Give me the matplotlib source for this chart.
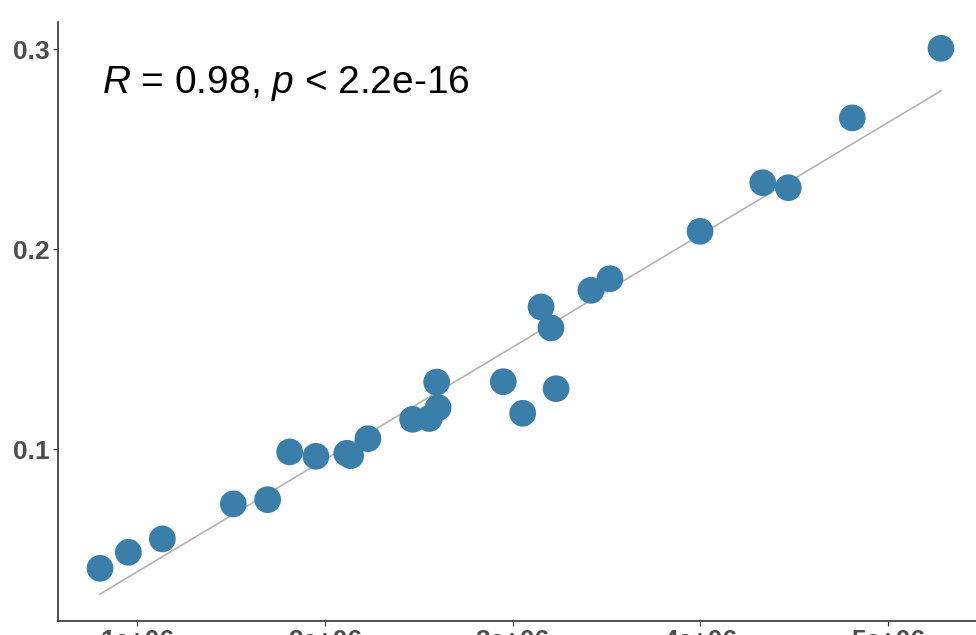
import numpy as np
import matplotlib
matplotlib.use("Agg")
import matplotlib.pyplot as plt

# data
x_vals = [0.803e6, 0.954e6, 1.135e6, 1.513e6, 1.696e6, 1.813e6, 1.953e6,
          2.117e6, 2.138e6, 2.230e6, 2.468e6, 2.557e6, 2.604e6, 2.596e6,
          2.951e6, 3.054e6, 3.152e6, 3.205e6, 3.232e6, 3.418e6, 3.519e6,
          3.999e6, 4.333e6, 4.469e6, 4.810e6, 5.282e6]
y_vals = [0.0405, 0.0485, 0.0552, 0.0727, 0.0748, 0.0987, 0.0965,
          0.0980, 0.0968, 0.1053, 0.1150, 0.1154, 0.1208, 0.1336,
          0.1338, 0.1180, 0.1712, 0.1607, 0.1303, 0.1795, 0.1853,
          0.2090, 0.2333, 0.2308, 0.2657, 0.3005]
x_ticks = [1e6, 2e6, 3e6, 4e6, 5e6]
x_tick_labels = ["1e+06", "2e+06", "3e+06", "4e+06", "5e+06"]
y_ticks = [0.1, 0.2, 0.3]
y_tick_labels = ["0.1", "0.2", "0.3"]
stat_label = r"$\mathit{R}$ = 0.98, $\mathit{p}$ < 2.2e-16"

plt.rcParams["font.family"] = ["Liberation Sans", "DejaVu Sans"]
plt.rcParams["mathtext.fontset"] = "custom"
plt.rcParams["mathtext.rm"] = "Liberation Sans"
plt.rcParams["mathtext.it"] = "Liberation Sans:italic"

W, H = 976, 635
fig = plt.figure(figsize=(W / 100, H / 100), dpi=100)
# axes box in pixels: left 58, right 976, top 22, bottom 621
ax = fig.add_axes([58.3 / W, (H - 621) / H, (976 - 58.3) / W, (621 - 22) / H])

x = np.array(x_vals)
y = np.array(y_vals)

# linear fit line
k, b = np.polyfit(x, y, 1)
xl = np.array([x.min(), x.max()])
ax.plot(xl, k * xl + b, color="#b3b3b3", lw=1.2, zorder=1)

ax.scatter(x, y, s=370, color="#3a7eaa", edgecolors="none", zorder=2)

ax.set_xlim(0.5808e6, 5.4687e6)
ax.set_ylim(0.01415, 0.31365)
ax.set_xticks(x_ticks)
ax.set_xticklabels(x_tick_labels)
ax.set_yticks(y_ticks)
ax.set_yticklabels(y_tick_labels)
ax.tick_params(length=3.5, width=0.8, color="#333333", pad=2.5,
               labelsize=19, labelcolor="#4d4d4d")
for lab in ax.get_xticklabels() + ax.get_yticklabels():
    lab.set_fontweight("bold")

for side in ["top", "right"]:
    ax.spines[side].set_visible(False)
for side in ["left", "bottom"]:
    ax.spines[side].set_color("#333333")
    ax.spines[side].set_linewidth(1.2)

ax.text(101.7 / W, (H - 93) / H, stat_label, transform=fig.transFigure,
        fontsize=28, color="black", ha="left", va="baseline")

fig.savefig("out.png", dpi=100)
